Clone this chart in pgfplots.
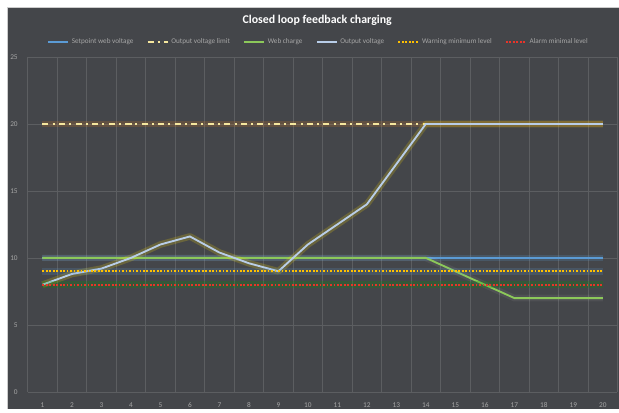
\documentclass[border=0pt]{standalone}
\usepackage{fontspec}
\setmainfont{Carlito}
\usepackage{pgfplots}
\pgfplotsset{compat=1.18}
\definecolor{bg}{HTML}{44464A}
\definecolor{gridc}{HTML}{5C5E61}
\definecolor{tickc}{HTML}{A6A6A6}
\definecolor{cset}{HTML}{5B9BD5}
\definecolor{climit}{HTML}{F5E79E}
\definecolor{cweb}{HTML}{8CC85A}
\definecolor{cout}{HTML}{B8CDE8}
\definecolor{cwarn}{HTML}{FFC000}
\definecolor{calarm}{HTML}{E8342A}
\begin{document}
\begin{tikzpicture}
\fill[white] (0pt,0pt) rectangle (464.25pt,306.75pt);
\fill[bg] (5.25pt,0pt) rectangle (464.25pt,301.5pt);
\draw[black!20] (5.25pt,0pt) -- (5.25pt,301.5pt) -- (464.25pt,301.5pt);
\node[font=\bfseries\fontsize{8.9}{10}\selectfont, text=white, anchor=center] at (238pt,291.5pt) {Closed loop feedback charging};
\begin{axis}[
  at={(20.81pt,12.75pt)}, anchor=south west,
  scale only axis, width=442.5pt, height=251.25pt,
  xmin=0.5, xmax=20.5, ymin=0, ymax=25,
  xtick={1,...,20}, ytick={0,5,...,25},
  minor xtick={0.5,1.5,...,20.5},
  xminorgrids=true, ymajorgrids=true,
  major tick length=0pt, minor tick length=0pt,
  grid style={draw=gridc, line width=0.5pt},
  minor grid style={draw=gridc, line width=0.5pt},
  axis line style={draw=none},
  /pgf/number format/assume math mode=true,
  tick label style={font=\fontsize{5.5}{6}\selectfont, text=tickc},
  xticklabel style={yshift=-4.5pt},
  yticklabel style={xshift=-4pt},
  legend columns=6,
  legend style={draw=none, fill=none, font=\fontsize{5.4}{6}\selectfont, text=tickc,
     at={(axis description cs:0.4936,1.0448)}, anchor=center,
     /tikz/every even column/.append style={column sep=8pt}},
  legend image code/.code={\draw[#1] (0pt,0pt) -- (15pt,0pt);},
  clip=true,
]
% Setpoint web voltage
\addplot[forget plot, cset, opacity=0.2, line width=5pt] coordinates {(1,10)(20,10)};
\addplot[cset, line width=1.4pt] coordinates {(1,10)(2,10)(3,10)(4,10)(5,10)(6,10)(7,10)(8,10)(9,10)(10,10)(11,10)(12,10)(13,10)(14,10)(15,10)(16,10)(17,10)(18,10)(19,10)(20,10)};
\addlegendentry{Setpoint web voltage}
% Output voltage limit
\addplot[forget plot, orange!60!brown, opacity=0.18, line width=5pt] coordinates {(1,20)(20,20)};
\addplot[climit, line width=1.4pt, dash pattern=on 4.5pt off 3.2pt on 1.5pt off 3.2pt] coordinates {(1,20)(2,20)(3,20)(4,20)(5,20)(6,20)(7,20)(8,20)(9,20)(10,20)(11,20)(12,20)(13,20)(14,20)(15,20)(16,20)(17,20)(18,20)(19,20)(20,20)};
\addlegendentry{Output voltage limit}
% Web charge
\addplot[forget plot, white, opacity=0.06, line width=5pt] coordinates {(1,10)(14,10)(17,7)(20,7)};
\addplot[cweb, line width=1.4pt] coordinates {(1,10)(2,10)(3,10)(4,10)(5,10)(6,10)(7,10)(8,10)(9,10)(10,10)(11,10)(12,10)(13,10)(14,10)(15,9)(16,8)(17,7)(18,7)(19,7)(20,7)};
\addlegendentry{Web charge}
% Output voltage
\addplot[forget plot, yellow!80!orange, opacity=0.2, line width=5pt, line join=round] coordinates {(1,8)(2,8.8)(3,9.2)(4,10)(5,11)(6,11.6)(7,10.4)(8,9.6)(9,9)(10,11)(11,12.5)(12,14)(13,17)(14,20)(15,20)(16,20)(17,20)(18,20)(19,20)(20,20)};
\addplot[cout, line width=1.4pt] coordinates {(1,8)(2,8.8)(3,9.2)(4,10)(5,11)(6,11.6)(7,10.4)(8,9.6)(9,9)(10,11)(11,12.5)(12,14)(13,17)(14,20)(15,20)(16,20)(17,20)(18,20)(19,20)(20,20)};
\addlegendentry{Output voltage}
% Warning minimum level
\addplot[forget plot, cset, opacity=0.18, line width=5pt] coordinates {(1,9)(20,9)};
\addplot[cwarn, line width=1.4pt, dash pattern=on 1.3pt off 1.3pt] coordinates {(1,9)(2,9)(3,9)(4,9)(5,9)(6,9)(7,9)(8,9)(9,9)(10,9)(11,9)(12,9)(13,9)(14,9)(15,9)(16,9)(17,9)(18,9)(19,9)(20,9)};
\addlegendentry{Warning minimum level}
% Alarm minimal level
\addplot[forget plot, green!60!black, opacity=0.22, line width=5pt] coordinates {(1,8)(20,8)};
\addplot[calarm, line width=1.4pt, dash pattern=on 1.3pt off 1.3pt] coordinates {(1,8)(2,8)(3,8)(4,8)(5,8)(6,8)(7,8)(8,8)(9,8)(10,8)(11,8)(12,8)(13,8)(14,8)(15,8)(16,8)(17,8)(18,8)(19,8)(20,8)};
\addlegendentry{Alarm minimal level}
\end{axis}
\end{tikzpicture}
\end{document}
